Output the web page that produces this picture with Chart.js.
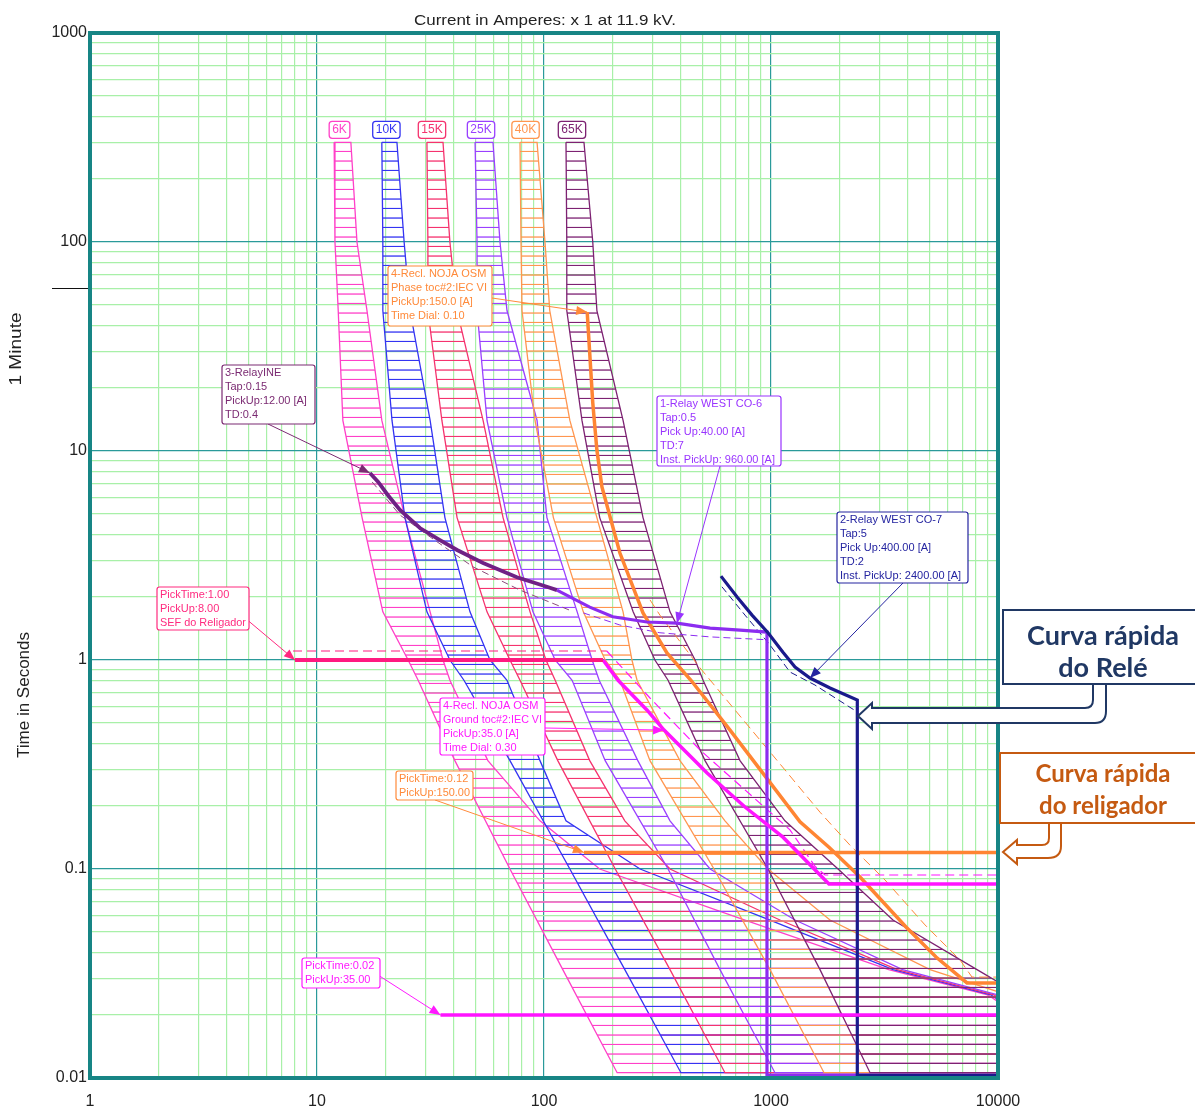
<!DOCTYPE html>
<html lang="pt">
<head>
<meta charset="utf-8">
<title>Coordenação de proteção – 11.9 kV</title>
<script src="https://cdn.jsdelivr.net/npm/chart.js@4.4.1/dist/chart.umd.min.js"></script>
<style>
  html, body { margin: 0; padding: 0; background: #ffffff; }
  canvas { display: block; }
</style>
</head>
<body>
<canvas id="tcc" width="1195" height="1108"></canvas>
<script>
// ---------- axis labels ----------
const xTickLabels = ['1', '10', '100', '1000', '10000'];
const yTickLabels = ['0.01', '0.1', '1', '10', '100', '1000'];

// ---------- K fuse links: minimum melt / total clearing (A vs s) ----------
const fuseNames = ['6K', '10K', '15K', '25K', '40K', '65K'];
const fuseColors = ['#ff40c8', '#3434f2', '#f5336e', '#9a40ff', '#ff9650', '#7d2272'];

const mmTimes = [300, 100, 47, 14, 4.8, 1.7, 1, 0.8, 0.33, 0.1, 0.033, 0.0106];
const mm6K  = [11.9, 12.0, 12.4, 13.0, 15.8, 19.5, 25.2, 27.9, 40.5, 70.8, 121, 210];
const mm10K = [19.3, 19.5, 19.5, 21.4, 24.4, 30.5, 38.5, 44.4, 70.8, 130, 227, 401];
const mm15K = [30.5, 30.8, 30.8, 35.5, 41.4, 56.1, 70.8, 78.4, 115, 206, 359, 627];
const mm25K = [49.7, 50.7, 50.7, 56.1, 68.7, 89.4, 112, 133, 186, 352, 596, 1041];
const mm40K = [78.4, 79.2, 80.0, 91.3, 110, 149, 186, 216, 293, 561, 990, 1712];
const mm65K = [125, 126, 126, 147, 176, 247, 308, 352, 512, 970, 1644, 2731];

const tcTimes = [300, 100, 47, 14, 4.8, 1.7, 1, 0.8, 0.33, 0.17, 0.1, 0.057, 0.033, 0.025, 0.0106];
const tc6K  = [14.1, 15.0, 16.6, 19.3, 24.4, 31.5, 35.9, 38.5, 56.6, 96.0, 176, 768, 3300, 9000, 30000];
const tc10K = [22.5, 24.2, 25.7, 31.5, 36.6, 47.2, 57.8, 68.7, 96.0, 125, 265, 990, 3450, 9300, 30000];
const tc15K = [35.9, 38.5, 41.4, 53.9, 66.0, 86.8, 102, 112, 159, 227, 359, 1095, 3600, 9600, 30000];
const tc25K = [59.6, 64.0, 68.7, 93.2, 103, 140, 163, 175, 259, 359, 539, 1276, 3800, 10000, 30000];
const tc40K = [93.2, 101, 106, 130, 171, 223, 244, 257, 397, 627, 970, 1819, 5017, 11000, 30000];
const tc65K = [150, 164, 171, 223, 273, 359, 463, 502, 730, 1152, 1974, 3446, 8081, 12500, 30000];

const fuseMM = [mm6K, mm10K, mm15K, mm25K, mm40K, mm65K];
const fuseTC = [tc6K, tc10K, tc15K, tc25K, tc40K, tc65K];

// ---------- relays ----------
// 3-Relay INE
const ineAmps  = [17.1, 18.6, 20.5, 23.2, 28.4, 34.8, 41.4, 53.9, 76.0, 103, 114];
const ineTimes = [7.85, 7.11, 6.16, 5.22, 4.28, 3.75, 3.36, 2.91, 2.49, 2.24, 2.16];
const ineDashAmps  = [17.5, 19.9, 23.2, 31.5, 48.7, 78.4, 130];
const ineDashTimes = [7.11, 6.02, 4.94, 3.88, 2.79, 2.16, 1.73];
// 1-Relay WEST CO-6 (inst. 960 A)
const co6Amps  = [114, 159, 201, 284, 385, 539, 730, 960, 960, 10000];
const co6Times = [2.16, 1.79, 1.61, 1.52, 1.50, 1.42, 1.39, 1.36, 0.0103, 0.0103];
const co6DashAmps  = [149, 216, 324, 539, 960];
const co6DashTimes = [1.68, 1.47, 1.35, 1.29, 1.25];
// 2-Relay WEST CO-7 (inst. 2400 A)
const co7Amps  = [602, 709, 825, 970, 1129, 1276, 1485, 1819, 2400, 2400, 10000];
const co7Times = [2.52, 2.0, 1.64, 1.35, 1.09, 0.926, 0.82, 0.735, 0.644, 0.0103, 0.0103];
const co7DashAmps  = [608, 768, 990, 1212, 1562, 2400];
const co7DashTimes = [2.24, 1.64, 1.18, 0.876, 0.759, 0.564];

// ---------- recloser NOJA OSM ----------
const phaseAmps  = [155, 159, 164, 171, 180, 216, 273, 348, 444, 660, 970, 1342, 1801, 2467, 3933, 5333, 7302, 10000];
const phaseTimes = [46.2, 29.4, 17.0, 10.1, 6.73, 3.25, 1.68, 1.08, 0.80, 0.462, 0.267, 0.168, 0.127, 0.0916, 0.0528, 0.0379, 0.0285, 0.0285];
const phaseDashAmps  = [293, 324, 487, 768, 1152, 1644, 2228, 3179, 4770, 6802, 7682, 10000];
const phaseDashTimes = [1.94, 1.64, 0.916, 0.505, 0.298, 0.187, 0.130, 0.0886, 0.054, 0.0367, 0.0304, 0.0304];
const phaseMinAmps  = [150, 10000];
const phaseMinTimes = [0.12, 0.12];

const sefAmps  = [8, 182];
const sefTimes = [1.0, 1.0];
const sefDashAmps  = [7.84, 189];
const sefDashTimes = [1.104, 1.104];
const groundAmps  = [182, 212, 284, 338, 523, 768, 1129, 1729, 1801, 10000];
const groundTimes = [1.0, 0.80, 0.577, 0.462, 0.288, 0.198, 0.142, 0.0886, 0.0848, 0.0848];
const groundDashAmps  = [189, 293, 487, 768, 1212, 1562, 1729, 10000];
const groundDashTimes = [1.104, 0.658, 0.371, 0.239, 0.154, 0.103, 0.0936, 0.0936];
const groundMinAmps  = [35, 10000];
const groundMinTimes = [0.02, 0.02];

// ---------- helpers ----------
const SANS = '"Liberation Sans", Arial, sans-serif';
const C = {
  ine: '#6f2185', co6: '#8c2cf0', co7: '#1a1a8c', phase: '#ff8533',
  sef: '#ff1a80', ground: '#ff14ff', major: '#2a9a9a', minor: '#a8f0a8', frame: '#178585'
};

function pts(xs, ys) { return xs.map((x, i) => ({ x: x, y: ys[i] })); }

// horizontal hatch used inside the fuse bands
function hatch(color) {
  const c = document.createElement('canvas');
  c.width = 8; c.height = 19;
  const g = c.getContext('2d');
  g.fillStyle = color;
  g.fillRect(0, 8.4, 8, 1.3);
  g.fillRect(0, 17.9, 8, 1.3);
  return g.createPattern(c, 'repeat');
}

function bandDataset(i) {
  const left = pts(fuseMM[i], mmTimes);
  const right = pts(fuseTC[i], tcTimes).reverse();
  return {
    data: left.concat(right, [left[0]]),
    showLine: true, fill: 'shape',
    borderColor: fuseColors[i], borderWidth: 1.3,
    backgroundColor: hatch(fuseColors[i]),
    pointRadius: 0, tension: 0, order: 30 - i
  };
}

function curve(xs, ys, color, width, dash, order) {
  return {
    data: pts(xs, ys), showLine: true, fill: false,
    borderColor: color, borderWidth: width, borderDash: dash || [],
    pointRadius: 0, tension: 0, order: order
  };
}

function logTicks(lo, hi) {
  const out = [];
  for (let e = Math.round(Math.log10(lo)); e <= Math.round(Math.log10(hi)); e++) {
    for (let d = 1; d <= 9; d++) {
      const v = +(d * Math.pow(10, e)).toPrecision(6);
      if (v >= lo * 0.999 && v <= hi * 1.001) out.push({ value: v });
    }
  }
  return out;
}
function decade(v) {
  const l = Math.log10(v), r = Math.round(l);
  return Math.abs(l - r) < 1e-6 ? r : null;
}

function roundRect(ctx, x, y, w, h, r) {
  ctx.beginPath();
  ctx.moveTo(x + r, y);
  ctx.arcTo(x + w, y, x + w, y + h, r);
  ctx.arcTo(x + w, y + h, x, y + h, r);
  ctx.arcTo(x, y + h, x, y, r);
  ctx.arcTo(x, y, x + w, y, r);
  ctx.closePath();
}

function arrowHead(ctx, fx, fy, tx, ty, len, half) {
  const dx = tx - fx, dy = ty - fy, d = Math.hypot(dx, dy) || 1;
  const ux = dx / d, uy = dy / d;
  ctx.beginPath();
  ctx.moveTo(tx, ty);
  ctx.lineTo(tx - ux * len - uy * half, ty - uy * len + ux * half);
  ctx.lineTo(tx - ux * len + uy * half, ty - uy * len - ux * half);
  ctx.closePath();
  ctx.fill();
}

function fitText(ctx, text, cx, cy, width, font, color, rot) {
  ctx.save();
  ctx.font = font; ctx.fillStyle = color;
  ctx.textAlign = 'center'; ctx.textBaseline = 'middle';
  ctx.translate(cx, cy);
  if (rot) ctx.rotate(rot);
  const w = ctx.measureText(text).width;
  ctx.scale(width / w, 1);
  ctx.fillText(text, 0, 0);
  ctx.restore();
}

// left-aligned text squeezed horizontally when it would overrun maxW
function squeezeText(ctx, text, x, y, maxW) {
  const w = ctx.measureText(text).width;
  if (w <= maxW) { ctx.fillText(text, x, y); return; }
  ctx.save();
  ctx.translate(x, y);
  ctx.scale(maxW / w, 1);
  ctx.fillText(text, 0, 0);
  ctx.restore();
}

// ---------- setting notes (box in px, pointer target from curve data) ----------
const notes = [
  { box: [388, 266, 104, 60], color: '#ff8a3a',
    lines: ['4-Recl. NOJA OSM', 'Phase toc#2:IEC VI', 'PickUp:150.0 [A]', 'Time Dial: 0.10'],
    from: [492, 298], to: [phaseAmps[0], phaseTimes[0]] },
  { box: [222, 365, 93, 59], color: '#7b2a72',
    lines: ['3-RelayINE', 'Tap:0.15', 'PickUp:12.00 [A]', 'TD:0.4'],
    from: [268, 424], to: [ineAmps[0], ineTimes[0]] },
  { box: [657, 396, 124, 70], color: '#9933ff',
    lines: ['1-Relay WEST CO-6', 'Tap:0.5', 'Pick Up:40.00 [A]', 'TD:7', 'Inst. PickUp: ' + co6Amps[7].toFixed(2) + ' [A]'],
    from: [720, 466], to: [co6Amps[4], co6Times[4]] },
  { box: [837, 512, 131, 71], color: '#2424a0',
    lines: ['2-Relay WEST CO-7', 'Tap:5', 'Pick Up:400.00 [A]', 'TD:2', 'Inst. PickUp: ' + co7Amps[8].toFixed(2) + ' [A]'],
    from: [903, 583], to: [co7Amps[6], co7Times[6]] },
  { box: [157, 587, 92, 43], color: '#ff2a7f',
    lines: ['PickTime:' + sefTimes[0].toFixed(2), 'PickUp:' + sefAmps[0].toFixed(2), 'SEF do Religador'],
    from: [245, 618], to: [sefAmps[0], sefTimes[0]] },
  { box: [440, 698, 105, 57], color: '#ff1aff',
    lines: ['4-Recl. NOJA OSM', 'Ground toc#2:IEC VI', 'PickUp:35.0 [A]', 'Time Dial: 0.30'],
    from: [545, 728], to: [groundAmps[3], groundTimes[3]] },
  { box: [396, 771, 77, 29], color: '#ff8a3a',
    lines: ['PickTime:' + phaseMinTimes[0].toFixed(2), 'PickUp:' + phaseMinAmps[0].toFixed(2)],
    from: [435, 800], to: [phaseMinAmps[0], phaseMinTimes[0]] },
  { box: [302, 958, 78, 30], color: '#ff1aff',
    lines: ['PickTime:' + groundMinTimes[0].toFixed(2), 'PickUp:' + groundMinAmps[0].toFixed(2)],
    from: [378, 975], to: [groundMinAmps[0], groundMinTimes[0]] }
];

const notesPlugin = {
  id: 'notes',
  afterDatasetsDraw(chart) {
    const ctx = chart.ctx, xs = chart.scales.x, ys = chart.scales.y, a = chart.chartArea;
    ctx.save();

    // fuse name tags above each band
    ctx.font = '12px ' + SANS;
    ctx.textAlign = 'center'; ctx.textBaseline = 'middle';
    fuseNames.forEach((name, i) => {
      const x0 = xs.getPixelForValue(fuseMM[i][0]);
      const x1 = xs.getPixelForValue(fuseTC[i][0]);
      const top = ys.getPixelForValue(mmTimes[0]);
      const cx = (x0 + x1) / 2 - 3;
      const w = ctx.measureText(name).width + 6;
      roundRect(ctx, cx - w / 2, top - 21, w, 17, 3);
      ctx.fillStyle = '#ffffff'; ctx.fill();
      ctx.strokeStyle = fuseColors[i]; ctx.lineWidth = 1.3; ctx.stroke();
      ctx.fillStyle = fuseColors[i];
      ctx.fillText(name, cx, top - 12.5);
    });

    // plot frame
    ctx.strokeStyle = C.frame; ctx.lineWidth = 4;
    ctx.strokeRect(a.left, a.top, a.right - a.left, a.bottom - a.top);

    // pointers
    notes.forEach(n => {
      const tx = xs.getPixelForValue(n.to[0]), ty = ys.getPixelForValue(n.to[1]);
      ctx.strokeStyle = n.color; ctx.fillStyle = n.color; ctx.lineWidth = 1;
      ctx.beginPath(); ctx.moveTo(n.from[0], n.from[1]); ctx.lineTo(tx, ty); ctx.stroke();
      arrowHead(ctx, n.from[0], n.from[1], tx, ty, 11, 4.5);
    });
    // boxes
    notes.forEach(n => {
      const [x, y, w, h] = n.box;
      roundRect(ctx, x, y, w, h, 2.5);
      ctx.fillStyle = '#ffffff'; ctx.fill();
      ctx.strokeStyle = n.color; ctx.lineWidth = 1.2; ctx.stroke();
      ctx.font = '11px ' + SANS; ctx.fillStyle = n.color;
      ctx.textAlign = 'left'; ctx.textBaseline = 'middle';
      n.lines.forEach((t, k) => squeezeText(ctx, t, x + 3, y + 8 + k * 14, w - 6));
    });
    ctx.restore();
  },

  afterDraw(chart) {
    const ctx = chart.ctx, ys = chart.scales.y, a = chart.chartArea;
    ctx.save();
    // titles
    fitText(ctx, 'Current in Amperes: x 1 at 11.9 kV.', 545, 21, 262, '15px ' + SANS, '#222');
    fitText(ctx, 'Time in Seconds', 25, 695, 126, '16px ' + SANS, '#222', -Math.PI / 2);
    fitText(ctx, '1 Minute', 17, 349, 73, '16px ' + SANS, '#222', -Math.PI / 2);
    const y60 = Math.round(ys.getPixelForValue(60)) + 0.5;
    ctx.strokeStyle = '#111'; ctx.lineWidth = 1;
    ctx.beginPath(); ctx.moveTo(52, y60); ctx.lineTo(a.left - 2, y60); ctx.stroke();

    // callout: relay fast curve
    ctx.lineWidth = 2;
    ctx.strokeStyle = '#203864';
    ctx.beginPath();
    ctx.moveTo(1093, 684); ctx.lineTo(1093, 700); ctx.quadraticCurveTo(1093, 708, 1085, 708);
    ctx.lineTo(872, 708); ctx.lineTo(872, 703); ctx.lineTo(858, 716); ctx.lineTo(872, 729);
    ctx.lineTo(872, 723); ctx.lineTo(1095, 723); ctx.quadraticCurveTo(1106, 723, 1106, 711);
    ctx.lineTo(1106, 684);
    ctx.fillStyle = '#ffffff'; ctx.fill(); ctx.stroke();
    ctx.beginPath(); ctx.rect(1003, 610, 194, 74); ctx.fillStyle = '#ffffff'; ctx.fill(); ctx.stroke();
    ctx.fillStyle = '#203864';
    ctx.font = 'bold 27px Lato, "Open Sans", sans-serif';
    ctx.textAlign = 'center'; ctx.textBaseline = 'middle';
    ctx.fillText('Curva rápida', 1103, 636);
    ctx.fillText('do Relé', 1103, 668);

    // callout: recloser fast curve
    ctx.strokeStyle = '#c55a11';
    ctx.beginPath();
    ctx.moveTo(1049, 823); ctx.lineTo(1049, 838); ctx.quadraticCurveTo(1049, 845, 1042, 845);
    ctx.lineTo(1017, 845); ctx.lineTo(1017, 840); ctx.lineTo(1003, 852); ctx.lineTo(1017, 864);
    ctx.lineTo(1017, 858); ctx.lineTo(1048, 858); ctx.quadraticCurveTo(1061, 858, 1061, 846);
    ctx.lineTo(1061, 823);
    ctx.fillStyle = '#ffffff'; ctx.fill(); ctx.stroke();
    ctx.beginPath(); ctx.rect(1000, 753, 197, 70); ctx.fillStyle = '#ffffff'; ctx.fill(); ctx.stroke();
    ctx.fillStyle = '#c55a11';
    ctx.font = 'bold 24px Lato, "Open Sans", sans-serif';
    ctx.fillText('Curva rápida', 1103, 774);
    ctx.fillText('do religador', 1103, 806);
    ctx.restore();
  }
};

// ---------- datasets ----------
const datasets = [];
for (let i = 0; i < fuseNames.length; i++) datasets.push(bandDataset(i));
datasets.push(
  curve(ineDashAmps, ineDashTimes, '#8b4a7a', 1, [7, 4], 12),
  curve(co6DashAmps, co6DashTimes, C.co6, 1, [7, 4], 12),
  curve(co7DashAmps, co7DashTimes, C.co7, 1, [7, 4], 12),
  curve(phaseDashAmps, phaseDashTimes, C.phase, 1, [9, 5], 12),
  curve(sefDashAmps, sefDashTimes, C.sef, 1.2, [9, 5], 12),
  curve(groundDashAmps, groundDashTimes, C.ground, 1.2, [9, 5], 12),
  curve(phaseAmps, phaseTimes, C.phase, 3.5, null, 6),
  curve(phaseMinAmps, phaseMinTimes, C.phase, 3.5, null, 5),
  curve(co6Amps, co6Times, C.co6, 3.2, null, 4),
  curve(co7Amps, co7Times, C.co7, 3.2, null, 3),
  curve(sefAmps, sefTimes, C.sef, 3.8, null, 2),
  curve(groundAmps, groundTimes, C.ground, 3.5, null, 2),
  curve(groundMinAmps, groundMinTimes, C.ground, 3.5, null, 2),
  curve(ineAmps, ineTimes, C.ine, 3.8, null, 1)
);

const gridColor = c => (decade(c.tick.value) !== null ? C.major : C.minor);

new Chart(document.getElementById('tcc'), {
  type: 'scatter',
  data: { datasets: datasets },
  plugins: [notesPlugin],
  options: {
    responsive: false,
    animation: false,
    events: [],
    layout: { padding: { left: 0, top: 33, right: 197, bottom: 0 } },
    plugins: { legend: { display: false }, tooltip: { enabled: false }, title: { display: false } },
    scales: {
      x: {
        type: 'logarithmic', position: 'bottom', min: 1, max: 10000,
        afterBuildTicks: s => { s.ticks = logTicks(1, 10000); },
        afterFit: s => { s.height = 30; },
        border: { display: false },
        grid: { color: gridColor, lineWidth: 1.2, drawTicks: false },
        ticks: {
          autoSkip: false, maxRotation: 0, padding: 14, color: '#222',
          font: { family: SANS, size: 16 },
          callback: v => { const e = decade(v); return e === null ? '' : xTickLabels[e]; }
        }
      },
      y: {
        type: 'logarithmic', position: 'left', min: 0.01, max: 1000,
        afterBuildTicks: s => { s.ticks = logTicks(0.01, 1000); },
        afterFit: s => { s.width = 90; },
        border: { display: false },
        grid: { color: gridColor, lineWidth: 1.2, drawTicks: false },
        ticks: {
          autoSkip: false, padding: 3, color: '#222',
          font: { family: SANS, size: 16 },
          callback: v => { const e = decade(v); return e === null ? '' : yTickLabels[e + 2]; }
        }
      }
    }
  }
});
</script>
</body>
</html>
